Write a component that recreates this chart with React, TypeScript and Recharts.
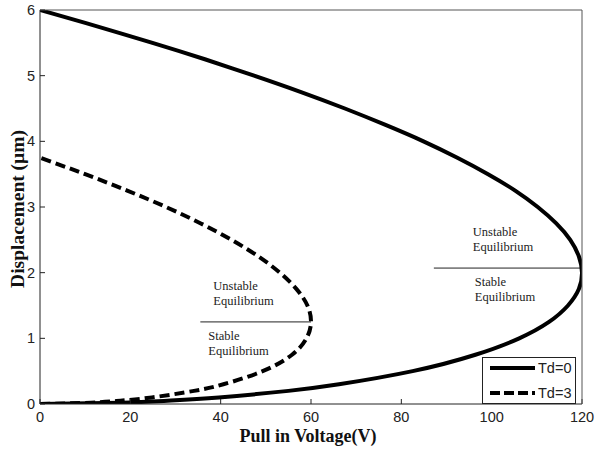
import React from "react";
import { LineChart, Line, XAxis, YAxis, ReferenceLine, Legend } from "recharts";

const xTicks = [0, 20, 40, 60, 80, 100, 120];
const yTicks = [0, 1, 2, 3, 4, 5, 6];
const seriesNames = ["Td=0", "Td=3"];

// Td=0 trace, ordered along the curve (bottom branch up to the nose, then back)
const td0Disp = [0, 0.02, 0.05, 0.1, 0.2, 0.3, 0.5, 0.75, 1, 1.25, 1.5, 1.75, 2, 2.25, 2.5, 2.75, 3, 3.25, 3.5, 3.75, 4, 4.25, 4.5, 4.75, 5, 5.25, 5.5, 5.8, 6];
const td0Volt = [0, 17.9, 28.2, 39.6, 55.0, 66.2, 82.5, 96.4, 106.1, 112.7, 116.9, 119.3, 120, 119.3, 117.4, 114.3, 110.2, 105.2, 99.2, 92.4, 84.9, 76.5, 67.5, 57.8, 47.4, 36.5, 24.9, 10.2, 0];

// Td=3 trace
const td3Disp = [0, 0.02, 0.05, 0.1, 0.2, 0.3, 0.5, 0.75, 1, 1.25, 1.5, 1.75, 2, 2.25, 2.5, 2.75, 3, 3.25, 3.5, 3.75];
const td3Volt = [0, 11.3, 17.8, 24.8, 34.1, 40.6, 49.3, 55.8, 59.0, 60, 59.2, 56.8, 53.1, 48.3, 42.4, 35.6, 27.9, 19.3, 10.0, 0];

// equilibrium divider lines: [x start, x end, displacement]
const nose0 = [87.2, 120, 2.07];
const nose3 = [35.5, 60, 1.25];

const td0Data = td0Disp.map((y, i) => ({ x: td0Volt[i], y }));
const td3Data = td3Disp.map((y, i) => ({ x: td3Volt[i], y }));

const serif = "'Liberation Serif', 'Times New Roman', serif";
const narrow = "'Liberation Sans Narrow', 'Arial Narrow', 'Liberation Sans', sans-serif";

const noteLabel = (dxTop: number, dxBottom: number) => (props: any) => {
  const vb = props.viewBox || {};
  const x = vb.x ?? 0;
  const y = vb.y ?? 0;
  return (
    <g fontFamily={serif} fontSize={12.5} fill="#222">
      <text x={x + dxTop} y={y - 32}>Unstable</text>
      <text x={x + dxTop} y={y - 17}>Equilibrium</text>
      <text x={x + dxBottom} y={y + 18}>Stable</text>
      <text x={x + dxBottom} y={y + 33}>Equilibrium</text>
    </g>
  );
};

const renderLegend = () => (
  <div style={{ width: 94, height: 47, border: "1px solid #222", boxSizing: "border-box", background: "#fff" }}>
    <svg width={92} height={45} style={{ display: "block" }}>
      <line x1={7} x2={52} y1={10} y2={10} stroke="#000" strokeWidth={4} />
      <text x={55} y={15} fontSize={14.5} fontFamily={narrow} fill="#222">{seriesNames[0]}</text>
      <line x1={7} x2={52} y1={35} y2={35} stroke="#000" strokeWidth={4} strokeDasharray="10 4" />
      <text x={55} y={40} fontSize={14.5} fontFamily={narrow} fill="#222">{seriesNames[1]}</text>
    </svg>
  </div>
);

const yLabel = (props: any) => {
  const vb = props.viewBox || {};
  const cx = (vb.x ?? 0) + 17;
  const cy = (vb.y ?? 0) + (vb.height ?? 0) / 2 + 2;
  return (
    <text x={cx} y={cy} transform={`rotate(-90 ${cx} ${cy})`} textAnchor="middle" dominantBaseline="central"
      fontFamily={serif} fontWeight="bold" fontSize={19.5} fill="#111">
      Displacement (μm)
    </text>
  );
};

const xLabel = (props: any) => {
  const vb = props.viewBox || {};
  const cx = (vb.x ?? 0) + (vb.width ?? 0) / 2 - 3;
  return (
    <text x={cx} y={442} textAnchor="middle" fontFamily={serif} fontWeight="bold" fontSize={18} fill="#111">
      Pull in Voltage(V)
    </text>
  );
};

const noTick = () => <g />;

export default function App() {
  const tickStyle = { fill: "#222", fontSize: 14.5, fontFamily: narrow };
  return (
    <div style={{ position: "absolute", left: 0, top: 0, background: "#fff" }}>
      <LineChart width={595} height={456} margin={{ top: 9, right: 12, bottom: 0, left: 0 }}>
        <XAxis dataKey="x" type="number" domain={[0, 120]} ticks={xTicks} height={52}
          tickSize={-5} tickMargin={13} stroke="#222" tick={tickStyle} allowDataOverflow label={xLabel} />
        <XAxis xAxisId="top" orientation="top" type="number" domain={[0, 120]} ticks={xTicks} height={1}
          tickSize={-5} stroke="#555" tick={noTick} />
        <YAxis dataKey="y" type="number" domain={[0, 6]} ticks={yTicks} width={40}
          tickSize={-5} tickMargin={10} stroke="#222" tick={tickStyle} allowDataOverflow label={yLabel} />
        <YAxis yAxisId="right" orientation="right" type="number" domain={[0, 6]} ticks={yTicks} width={1}
          tickSize={-5} stroke="#555" tick={noTick} />
        <ReferenceLine segment={[{ x: nose0[0], y: nose0[2] }, { x: nose0[1], y: nose0[2] }]} stroke="#222" strokeWidth={1}
          label={noteLabel(39, 41)} />
        <ReferenceLine segment={[{ x: nose3[0], y: nose3[2] }, { x: nose3[1], y: nose3[2] }]} stroke="#222" strokeWidth={1}
          label={noteLabel(13, 8)} />
        <Line data={td0Data} dataKey="y" name={seriesNames[0]} type="natural" stroke="#000" strokeWidth={4}
          dot={false} activeDot={false} isAnimationActive={false} />
        <Line data={td3Data} dataKey="y" name={seriesNames[1]} type="natural" stroke="#000" strokeWidth={4}
          strokeDasharray="10 5" dot={false} activeDot={false} isAnimationActive={false} />
        <Legend layout="horizontal" verticalAlign="middle" align="center" content={renderLegend}
          wrapperStyle={{ left: 482, top: 357, width: 94, height: 47 }} />
      </LineChart>
    </div>
  );
}
